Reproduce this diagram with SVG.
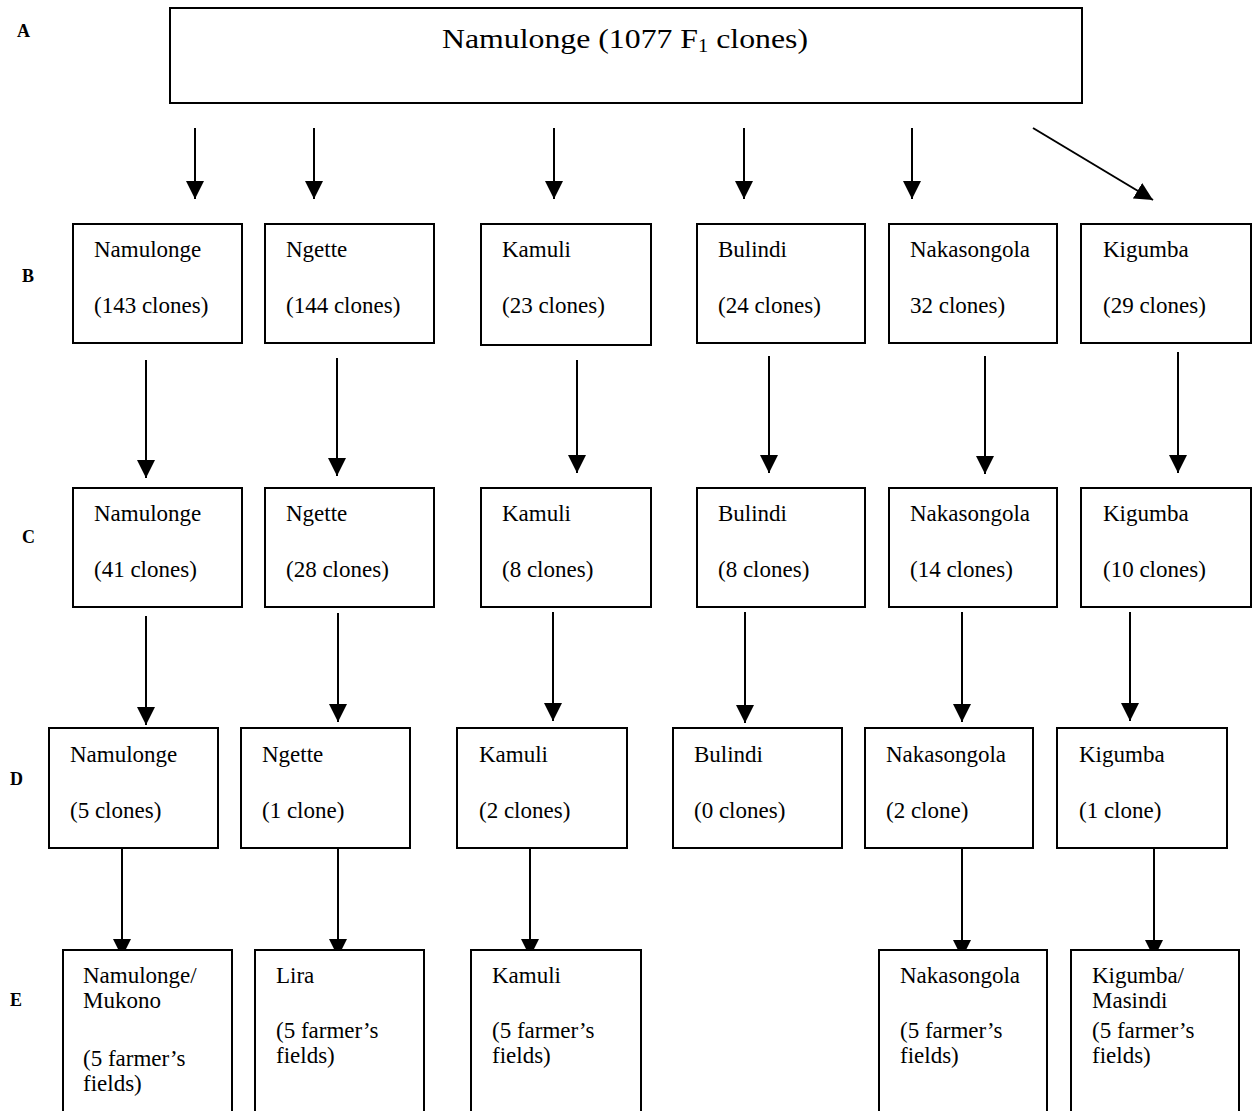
<svg xmlns="http://www.w3.org/2000/svg" width="1256" height="1111" viewBox="0 0 1256 1111">
<style>
.box{fill:#fff;stroke:#000;stroke-width:2}
.t{font-family:"Liberation Serif","Times New Roman",serif;font-size:23px;fill:#000}
.lbl{font-family:"Liberation Serif","Times New Roman",serif;font-size:18px;font-weight:bold;fill:#000}
.ttl{font-family:"Liberation Serif","Times New Roman",serif;font-size:28px;fill:#000}
.c{stroke:#000;stroke-width:2;fill:none;marker-end:url(#ah)}
</style>
<defs>
<marker id="ah" markerUnits="userSpaceOnUse" markerWidth="18" markerHeight="18" viewBox="0 0 16 16" refX="16" refY="8" orient="auto">
<path d="M0,0 L16,8 L0,16 Z" fill="#000"/>
</marker>
</defs>
<rect width="1256" height="1111" fill="#fff"/>
<g id="labels">
<text class="lbl" x="17" y="37">A</text>
<text class="lbl" x="22" y="282">B</text>
<text class="lbl" x="22" y="543">C</text>
<text class="lbl" x="10" y="785">D</text>
<text class="lbl" x="10" y="1006">E</text>
</g>
<g id="connectors">
<line class="c" x1="195" y1="128" x2="195" y2="199"/>
<line class="c" x1="314" y1="128" x2="314" y2="199"/>
<line class="c" x1="554" y1="128" x2="554" y2="199"/>
<line class="c" x1="744" y1="128" x2="744" y2="199"/>
<line class="c" x1="912" y1="128" x2="912" y2="199"/>
<line class="c" x1="1033" y1="128" x2="1153" y2="200"/>
<line class="c" x1="146" y1="360" x2="146" y2="478"/>
<line class="c" x1="337" y1="358" x2="337" y2="476"/>
<line class="c" x1="577" y1="360" x2="577" y2="473"/>
<line class="c" x1="769" y1="356" x2="769" y2="473"/>
<line class="c" x1="985" y1="356" x2="985" y2="474"/>
<line class="c" x1="1178" y1="352" x2="1178" y2="473"/>
<line class="c" x1="146" y1="616" x2="146" y2="725"/>
<line class="c" x1="338" y1="613" x2="338" y2="722"/>
<line class="c" x1="553" y1="612" x2="553" y2="721"/>
<line class="c" x1="745" y1="612" x2="745" y2="723"/>
<line class="c" x1="962" y1="612" x2="962" y2="722"/>
<line class="c" x1="1130" y1="612" x2="1130" y2="721"/>
<line class="c" x1="122" y1="848" x2="122" y2="957"/>
<line class="c" x1="338" y1="848" x2="338" y2="957"/>
<line class="c" x1="530" y1="848" x2="530" y2="957"/>
<line class="c" x1="962" y1="848" x2="962" y2="958"/>
<line class="c" x1="1154" y1="848" x2="1154" y2="958"/>
</g>
<g id="nA"><rect class="box" x="170" y="8" width="912" height="95"/>
<text class="ttl" x="442" y="48" textLength="366" lengthAdjust="spacingAndGlyphs">Namulonge (1077 F<tspan font-size="18" dy="4">1</tspan><tspan dy="-4"> clones)</tspan></text></g>
<g id="nB1"><rect class="box" x="73" y="224" width="169" height="119"/><text class="t" x="94" y="257">Namulonge</text><text class="t" x="94" y="313">(143 clones)</text></g>
<g id="nB2"><rect class="box" x="265" y="224" width="169" height="119"/><text class="t" x="286" y="257">Ngette</text><text class="t" x="286" y="313">(144 clones)</text></g>
<g id="nB3"><rect class="box" x="481" y="224" width="170" height="121"/><text class="t" x="502" y="257">Kamuli</text><text class="t" x="502" y="313">(23 clones)</text></g>
<g id="nB4"><rect class="box" x="697" y="224" width="168" height="119"/><text class="t" x="718" y="257">Bulindi</text><text class="t" x="718" y="313">(24 clones)</text></g>
<g id="nB5"><rect class="box" x="889" y="224" width="168" height="119"/><text class="t" x="910" y="257">Nakasongola</text><text class="t" x="910" y="313">32 clones)</text></g>
<g id="nB6"><rect class="box" x="1081" y="224" width="170" height="119"/><text class="t" x="1103" y="257">Kigumba</text><text class="t" x="1103" y="313">(29 clones)</text></g>
<g id="nC1"><rect class="box" x="73" y="488" width="169" height="119"/><text class="t" x="94" y="521">Namulonge</text><text class="t" x="94" y="577">(41 clones)</text></g>
<g id="nC2"><rect class="box" x="265" y="488" width="169" height="119"/><text class="t" x="286" y="521">Ngette</text><text class="t" x="286" y="577">(28 clones)</text></g>
<g id="nC3"><rect class="box" x="481" y="488" width="170" height="119"/><text class="t" x="502" y="521">Kamuli</text><text class="t" x="502" y="577">(8 clones)</text></g>
<g id="nC4"><rect class="box" x="697" y="488" width="168" height="119"/><text class="t" x="718" y="521">Bulindi</text><text class="t" x="718" y="577">(8 clones)</text></g>
<g id="nC5"><rect class="box" x="889" y="488" width="168" height="119"/><text class="t" x="910" y="521">Nakasongola</text><text class="t" x="910" y="577">(14 clones)</text></g>
<g id="nC6"><rect class="box" x="1081" y="488" width="170" height="119"/><text class="t" x="1103" y="521">Kigumba</text><text class="t" x="1103" y="577">(10 clones)</text></g>
<g id="nD1"><rect class="box" x="49" y="728" width="169" height="120"/><text class="t" x="70" y="762">Namulonge</text><text class="t" x="70" y="818">(5 clones)</text></g>
<g id="nD2"><rect class="box" x="241" y="728" width="169" height="120"/><text class="t" x="262" y="762">Ngette</text><text class="t" x="262" y="818">(1 clone)</text></g>
<g id="nD3"><rect class="box" x="457" y="728" width="170" height="120"/><text class="t" x="479" y="762">Kamuli</text><text class="t" x="479" y="818">(2 clones)</text></g>
<g id="nD4"><rect class="box" x="673" y="728" width="169" height="120"/><text class="t" x="694" y="762">Bulindi</text><text class="t" x="694" y="818">(0 clones)</text></g>
<g id="nD5"><rect class="box" x="865" y="728" width="168" height="120"/><text class="t" x="886" y="762">Nakasongola</text><text class="t" x="886" y="818">(2 clone)</text></g>
<g id="nD6"><rect class="box" x="1057" y="728" width="170" height="120"/><text class="t" x="1079" y="762">Kigumba</text><text class="t" x="1079" y="818">(1 clone)</text></g>
<g id="nE1"><rect class="box" x="63" y="950" width="169" height="200"/><text class="t" x="83" y="983">Namulonge/</text><text class="t" x="83" y="1008">Mukono</text><text class="t" x="83" y="1066">(5 farmer’s</text><text class="t" x="83" y="1091">fields)</text></g>
<g id="nE2"><rect class="box" x="255" y="950" width="169" height="200"/><text class="t" x="276" y="983">Lira</text><text class="t" x="276" y="1038">(5 farmer’s</text><text class="t" x="276" y="1063">fields)</text></g>
<g id="nE3"><rect class="box" x="471" y="950" width="170" height="200"/><text class="t" x="492" y="983">Kamuli</text><text class="t" x="492" y="1038">(5 farmer’s</text><text class="t" x="492" y="1063">fields)</text></g>
<g id="nE4"><rect class="box" x="879" y="950" width="168" height="200"/><text class="t" x="900" y="983">Nakasongola</text><text class="t" x="900" y="1038">(5 farmer’s</text><text class="t" x="900" y="1063">fields)</text></g>
<g id="nE5"><rect class="box" x="1071" y="950" width="168" height="200"/><text class="t" x="1092" y="983">Kigumba/</text><text class="t" x="1092" y="1008">Masindi</text><text class="t" x="1092" y="1038">(5 farmer’s</text><text class="t" x="1092" y="1063">fields)</text></g>
</svg>
